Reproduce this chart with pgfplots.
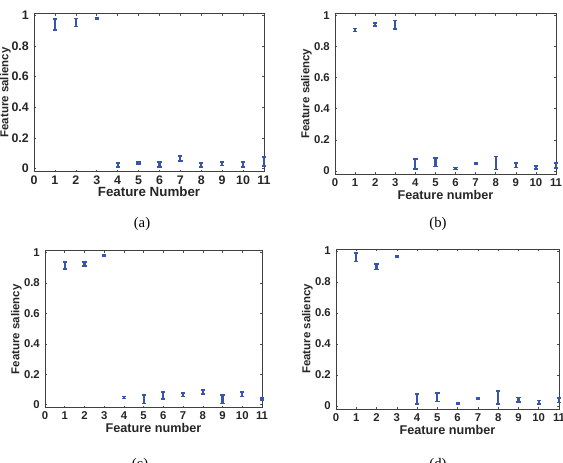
\documentclass[border=0pt]{standalone}
\usepackage{pgfplots}
\pgfplotsset{compat=1.18}
\usepackage{fontspec}
\setmainfont{Liberation Sans}
\newfontfamily\capfont{Liberation Serif}
\definecolor{eb}{RGB}{55,85,170}
\newlength{\pu}
\setlength{\pu}{0.75pt}
\pgfplotsset{
  sal/.style={
    scale only axis, clip=false,
    xmin=0, xmax=11, ymin=-0.02, ymax=1.013,
    xtick={0,1,...,11},
    ytick={0,0.2,0.4,0.6,0.8,1},
    yticklabels={0,0.2,0.4,0.6,0.8,1},
    tick align=inside,
    major tick length=2.2\pu,
    tick style={black!70, line width=0.4pt},
    axis line style={black!75, line width=0.5pt},
    /pgf/number format/assume math mode=true,
    ticklabel style={font=\bfseries\fontsize{8.5}{10}\selectfont, text=black!85},
    every axis y label/.style={at={(axis description cs:0,0.5)}, xshift=-28.5\pu, rotate=90, anchor=center, font=\bfseries\fontsize{8.6}{10}\selectfont, text=black!85},
    every axis x label/.style={at={(axis description cs:0.5,0)}, yshift=-20.5\pu, anchor=center, font=\bfseries\fontsize{9.5}{11}\selectfont, text=black!85},
    ylabel={Feature saliency},
    xlabel={Feature number},
    xticklabel style={yshift=0.5\pu},
    yticklabel style={xshift=-0.5\pu},
  },
  eb/.style={
    color=eb, only marks, mark=*, mark size=0pt, mark options={draw opacity=0, fill opacity=0},
    error bars/.cd, y dir=both, y explicit,
    error bar style={line width=1.6pt, color=eb, solid, opacity=1},
    error mark options={rotate=90, mark size=1.6pt, line width=1.2pt, color=eb, solid, draw opacity=1},
  }
}
\begin{document}
\begin{tikzpicture}
\path[use as bounding box] (0,0) rectangle (563\pu,462\pu);
% (a)
\begin{axis}[sal, at={(34\pu,290.3\pu)}, anchor=south west, width=230\pu, height=158.4\pu,
  xlabel={Feature Number},
  ticklabel style={font=\bfseries\fontsize{9.3}{10}\selectfont},
  every axis x label/.append style={font=\bfseries\fontsize{10}{11}\selectfont}]
\addplot[eb] coordinates {
(1,0.940) +- (0,0.036)
(2,0.953) +- (0,0.027)
(3,0.980) +- (0,0.004)
(4,0.023) +- (0,0.012)
(5,0.036) +- (0,0.006)
(6,0.027) +- (0,0.016)
(7,0.066) +- (0,0.017)
(8,0.023) +- (0,0.012)
(9,0.032) +- (0,0.012)
(10,0.027) +- (0,0.016)
(11,0.046) +- (0,0.028)
};
\end{axis}
% (b)
\begin{axis}[sal, at={(335\pu,288\pu)}, anchor=south west, width=221\pu, height=160.7\pu]
\addplot[eb] coordinates {
(1,0.906) +- (0,0.010)
(2,0.940) +- (0,0.010)
(3,0.940) +- (0,0.026)
(4,0.045) +- (0,0.032)
(5,0.056) +- (0,0.028)
(6,0.015) +- (0,0.006)
(7,0.046) +- (0,0.005)
(8,0.050) +- (0,0.042)
(9,0.035) +- (0,0.014)
(10,0.022) +- (0,0.011)
(11,0.033) +- (0,0.016)
};
\end{axis}
% (c)
\begin{axis}[sal, at={(45\pu,54.3\pu)}, anchor=south west, width=217\pu, height=157\pu]
\addplot[eb] coordinates {
(1,0.915) +- (0,0.024)
(2,0.925) +- (0,0.012)
(3,0.980) +- (0,0.006)
(4,0.047) +- (0,0.006)
(5,0.036) +- (0,0.027)
(6,0.062) +- (0,0.023)
(7,0.065) +- (0,0.012)
(8,0.083) +- (0,0.013)
(9,0.037) +- (0,0.028)
(10,0.069) +- (0,0.016)
(11,0.037) +- (0,0.006)
};
\end{axis}
% (d)
\begin{axis}[sal, at={(336\pu,53\pu)}, anchor=south west, width=223\pu, height=160\pu]
\addplot[eb] coordinates {
(1,0.961) +- (0,0.028)
(2,0.898) +- (0,0.018)
(3,0.963) +- (0,0.006)
(4,0.043) +- (0,0.032)
(5,0.056) +- (0,0.028)
(6,0.017) +- (0,0.006)
(7,0.047) +- (0,0.006)
(8,0.053) +- (0,0.042)
(9,0.039) +- (0,0.015)
(10,0.024) +- (0,0.011)
(11,0.037) +- (0,0.016)
};
\end{axis}
\node[font=\capfont\fontsize{11}{12}\selectfont] at (142\pu,238\pu) {(a)};
\node[font=\capfont\fontsize{11}{12}\selectfont] at (438\pu,238\pu) {(b)};
\node[font=\capfont\fontsize{11}{12}\selectfont] at (140\pu,-3\pu) {(c)};
\node[font=\capfont\fontsize{11}{12}\selectfont] at (438\pu,-3\pu) {(d)};
\end{tikzpicture}
\end{document}
